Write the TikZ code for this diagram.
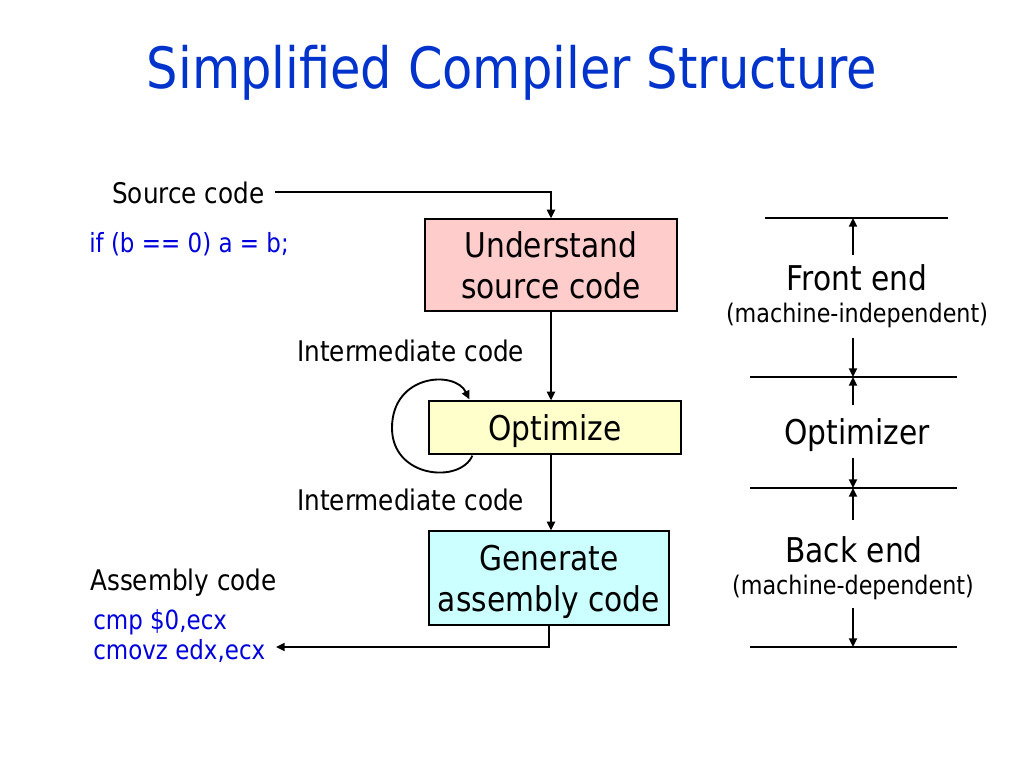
\documentclass[tikz,border=0pt]{standalone}
\usepackage{fontspec}
\setmainfont{DejaVu Sans}[FakeStretch=0.87]
\usetikzlibrary{arrows.meta,calc}
\definecolor{titleblue}{RGB}{0,51,204}
\definecolor{codeblue}{RGB}{0,0,220}
\definecolor{pinkfill}{RGB}{255,204,204}
\definecolor{yellowfill}{RGB}{255,255,204}
\definecolor{cyanfill}{RGB}{204,255,255}
\tikzset{
  lbl/.style={inner sep=0pt, font=\fontsize{21.3}{25}\selectfont},
  codetxt/.style={inner sep=0pt, text=codeblue, font=\fontsize{19.8}{23}\selectfont},
  stage/.style={draw=black, line width=0.9pt, inner sep=0pt},
  stagetxt/.style={inner sep=0pt, align=center, font=\fontsize{25.6}{30.75}\selectfont},
  big/.style={inner sep=0pt, font=\fontsize{25.6}{30}\selectfont},
  small/.style={inner sep=0pt, font=\fontsize{19.2}{23}\selectfont},
  arr/.style={line width=1.4pt, -{Triangle[length=6.5pt,width=6pt]}},
  rule/.style={line width=1.4pt}
}
\begin{document}
\begin{tikzpicture}[x=0.75pt,y=-0.75pt]
\useasboundingbox (0,0) rectangle (1024,768);
% title
\node[anchor=base, inner sep=0pt, text=titleblue, font=\fontsize{42.7}{50}\selectfont] (title) at (512,88) {Simplified Compiler Structure};
% left labels
\node[lbl, anchor=base west] (src) at (112,203) {Source code};
\node[codetxt, anchor=base west] (ifc) at (89,252) {if (b == 0) a = b;};
\node[lbl, anchor=base west] (im1) at (297,361) {Intermediate code};
\node[lbl, anchor=base west] (im2) at (297,510) {Intermediate code};
\node[lbl, anchor=base west] (asm) at (90,590) {Assembly code};
\node[codetxt, anchor=base west] (cmp) at (93,629) {cmp \$0,ecx};
\node[codetxt, anchor=base west] (cmov) at (93,659) {cmovz edx,ecx};
% stage boxes
\node[stage, fill=pinkfill, minimum width=189pt, minimum height=69pt] (und) at (551,265) {};
\node[stage, fill=yellowfill, minimum width=189pt, minimum height=39.75pt] (opt) at (555,427.5) {};
\node[stage, fill=cyanfill, minimum width=180pt, minimum height=70.5pt] (gen) at (549,578) {};
\node[stagetxt] (undt) at (und) {Understand\\source code};
\node[stagetxt] (optt) at ($(opt)+(0,4)$) {Optimize};
\node[stagetxt] (gent) at ($(gen)+(0,4)$) {Generate\\assembly code};
% connectors
\coordinate (s0) at (275,192);
\coordinate (a0) at (276,647);
\draw[arr] (s0) -| (und.north);
\draw[arr] (und.south) -- (und.south |- opt.north);
\draw[arr] (und.south |- opt.south) -- (und.south |- gen.north);
\draw[arr] (gen.south) |- (a0);
% self loop on optimize
\draw[arr] ($(opt.south west)+(44,1)$) .. controls (460,484) and (392,478) .. (392,428)
  .. controls (392,374) and (455,370) .. ($(opt.north west)+(41,-1)$);
% right side
\coordinate (r1) at (853,218);
\coordinate (r2) at (853,377);
\coordinate (r3) at (853,488);
\coordinate (r4) at (853,647);
\draw[rule] (765,218) -- (948,218);
\draw[rule] (750,377) -- (957,377);
\draw[rule] (750,488) -- (957,488);
\draw[rule] (750,647) -- (957,647);
\node[big, anchor=base] (fe) at (857,290) {Front end};
\node[small, anchor=base] (fei) at (857,322) {(machine-independent)};
\node[big, anchor=base] (op) at (857,444) {Optimizer};
\node[big, anchor=base] (be) at (854,562) {Back end};
\node[small, anchor=base] (bed) at (853,594) {(machine-dependent)};
\draw[arr] (853,255) -- (r1);
\draw[arr] (853,338) -- (r2);
\draw[arr] (853,405) -- (r2);
\draw[arr] (853,458) -- (r3);
\draw[arr] (853,520) -- (r3);
\draw[arr] (853,608) -- (r4);
\end{tikzpicture}
\end{document}
